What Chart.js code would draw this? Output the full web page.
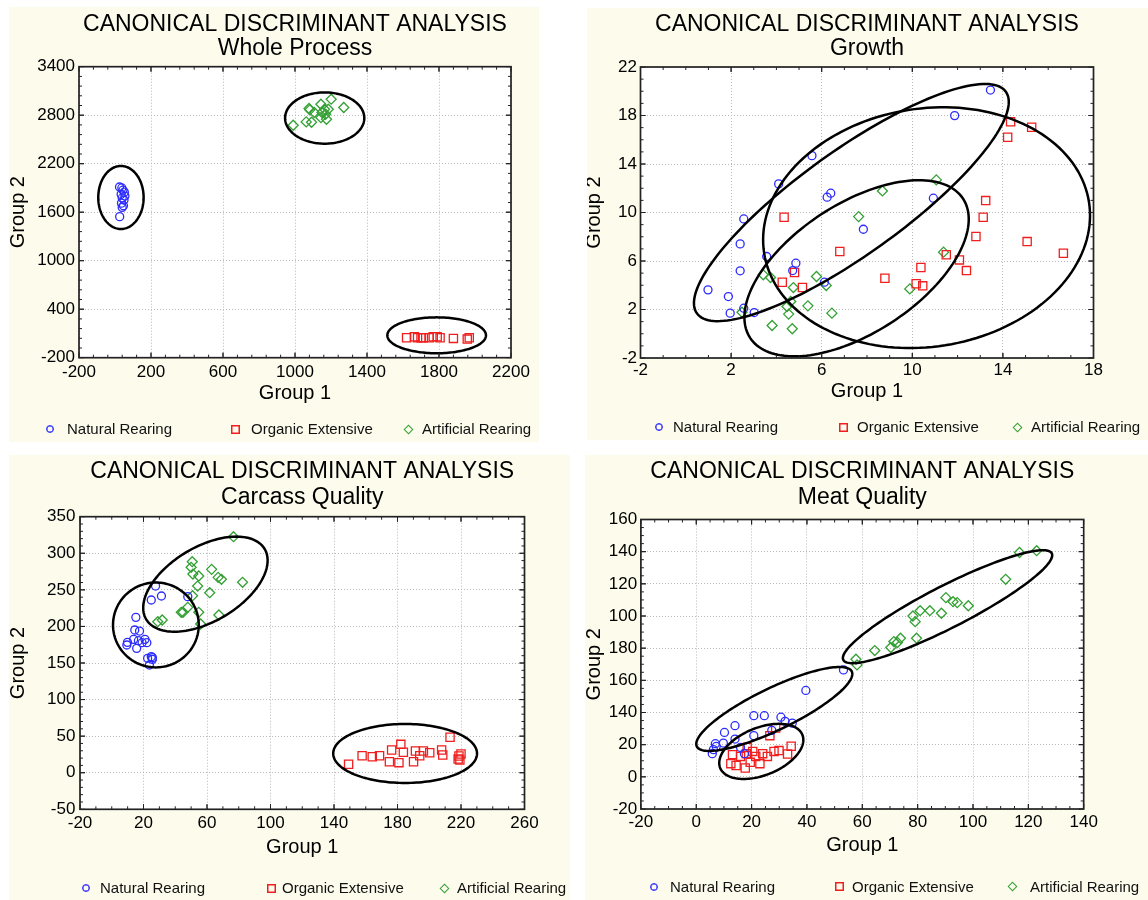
<!DOCTYPE html>
<html>
<head>
<meta charset="utf-8">
<script src="https://cdn.jsdelivr.net/npm/chart.js@4.4.1/dist/chart.umd.min.js"></script>
<style>
  html, body { margin: 0; padding: 0; background: #fff; }
  body { width: 1148px; height: 900px; position: relative; overflow: hidden; font-family: "Liberation Sans", Arial, sans-serif; }
  .panel { position: absolute; background: #fcfbec; }
  .panel canvas { position: absolute; left: 0; top: 0; }
  .lg { position: absolute; font-size: 15px; line-height: 18px; color: #111; white-space: nowrap; }
  .mk { position: absolute; box-sizing: border-box; }
  .mk.c { width: 8px; height: 8px; border: 1px solid #2b2bff; border-radius: 50%; box-shadow: inset 0 0 0 0.5px #2b2bff; }
  .mk.s { width: 9px; height: 9px; border: 1px solid #f01e1e; box-shadow: inset 0 0 0 0.5px #f01e1e; }
  .mk.d { width: 7px; height: 7px; border: 1px solid #33a033; transform: rotate(45deg); }
</style>
</head>
<body>
<script>
const FONT = '"Liberation Sans", Arial, Helvetica, sans-serif';

const seriesNames = ['Natural Rearing', 'Organic Extensive', 'Artificial Rearing'];
const seriesColors = ['#2b2bff', '#f01e1e', '#33a033'];
const seriesShapes = ['circle', 'rect', 'rectRot'];

// --- Whole Process ---
const wholeNatural = [[25,1912],[38,1900],[44,1872],[52,1848],[34,1822],[55,1800],[40,1776],[50,1750],[36,1712],[47,1680],[40,1660],[26,1545]];
const wholeOrganic = [[1620,47],[1663,60],[1681,47],[1700,47],[1713,47],[1746,47],[1768,60],[1790,60],[1806,47],[1880,39],[1957,30],[1968,47]];
const wholeArtificial = [[990,2676],[1062,2717],[1092,2713],[1078,2883],[1082,2866],[1107,2833],[1144,2936],[1150,2833],[1144,2770],[1164,2874],[1170,2812],[1185,2874],[1175,2750],[1201,2998],[1271,2895]];
// ellipse = centre x, centre y, then two conjugate half axes (data units)
const wholeEllipses = [[33,1782,126,0,0,390],[1165,2765,220,0,0,317],[1787,77,274,0,0,222]];
const wholeXTicks = [-200, 200, 600, 1000, 1400, 1800, 2200];
const wholeYTicks = [-200, 400, 1000, 1600, 2200, 2800, 3400];

// --- Growth ---
const growthNatural = [[0.98,3.62],[1.88,3.07],[1.96,1.70],[2.40,5.19],[2.40,7.41],[2.56,9.47],[2.56,2.11],[3.02,1.75],[3.57,6.37],[4.10,12.36],[4.72,5.21],[4.86,5.82],[5.57,14.69],[6.12,4.25],[6.24,11.26],[6.40,11.59],[7.84,8.62],[10.93,11.18],[11.87,17.99],[13.45,20.10]];
const growthOrganic = [[4.34,9.61],[4.26,4.25],[4.80,5.05],[5.15,3.81],[6.80,6.78],[8.79,4.58],[10.17,4.12],[10.38,5.46],[10.46,3.95],[11.50,6.51],[12.08,6.09],[12.39,5.21],[12.81,8.02],[13.13,9.61],[13.24,10.98],[14.21,16.20],[14.34,17.49],[15.07,7.60],[15.27,17.03],[16.67,6.64]];
const growthArtificial = [[2.48,1.78],[3.42,4.86],[3.74,4.64],[3.81,0.68],[4.47,2.25],[4.54,1.62],[4.63,2.66],[4.70,0.41],[4.75,3.81],[5.39,2.30],[5.77,4.72],[6.20,3.98],[6.45,1.70],[7.63,9.66],[8.68,11.78],[9.89,3.70],[11.06,12.69],[11.38,6.73]];
const growthEllipses = [[7.31,10.82,6.82,9.14,1.34,-3.48],[10.63,8.75,7.17,2.12,0.82,-9.70],[7.54,5.4,4.70,5.74,1.56,-4.45]];
const growthXTicks = [-2, 2, 6, 10, 14, 18];
const growthYTicks = [-2, 2, 6, 10, 14, 18, 22];

// --- Carcass Quality ---
const carcassNatural = [[9.5,174.6],[9.9,178.2],[13.8,182.3],[14.5,195.1],[15.2,212.4],[15.7,170.0],[16.8,180.5],[17.5,193.7],[19.1,177.8],[20.9,182.3],[22.1,177.8],[22.6,156.4],[23.7,147.3],[24.9,236.1],[24.9,158.7],[25.6,155.0],[25.6,157.3],[27.6,255.2],[31.3,241.6],[47.9,240.7]];
const carcassOrganic = [[149.2,11.5],[157.7,23.3],[164.1,21.9],[168.7,23.3],[174.9,15.1],[176.3,31.1],[180.9,13.8],[182.1,38.8],[183.7,27.9],[190.1,15.1],[191.3,29.7],[194.0,23.3],[196.3,29.7],[200.3,27.4],[207.8,31.1],[208.5,24.3],[213.1,48.4],[218.2,18.8],[218.7,22.9],[220.0,25.6],[219.3,17.4]];
const carcassArtificial = [[29.0,206.5],[31.8,208.8],[43.8,219.3],[44.9,219.3],[47.9,226.1],[50.9,242.0],[50.0,280.8],[50.7,288.5],[51.1,271.6],[54.1,255.2],[54.8,268.9],[54.8,219.3],[56.0,203.3],[61.7,246.1],[62.9,278.0],[67.0,267.1],[69.1,264.4],[67.5,215.6],[76.7,322.7],[82.4,260.3]];
const carcassEllipses = [[27.8,202,27,0,0,58],[59.0,257.8,37.3,48.1,12.0,-43.7],[184.8,26.3,45.3,0,0,40.3]];
const carcassXTicks = [-20, 20, 60, 100, 140, 180, 220, 260];
const carcassYTicks = [-50, 0, 50, 100, 150, 200, 250, 300, 350];

// --- Meat Quality ---
const meatNatural = [[5.8,14.4],[6.2,16.9],[6.9,20.6],[7.2,18.9],[9.8,21.0],[10.2,27.6],[14.0,23.5],[14.0,31.8],[16.0,18.3],[17.4,14.4],[20.8,25.6],[20.8,38.0],[24.6,38.0],[27.3,28.9],[30.6,37.1],[32.1,34.5],[34.7,33.4],[39.6,53.7],[53.2,66.5]];
const meatOrganic = [[12.5,8.2],[13.1,13.8],[14.4,7.0],[16.0,12.7],[17.7,5.5],[18.1,14.4],[18.4,18.3],[19.5,9.0],[20.4,15.8],[21.5,12.7],[23.0,8.2],[24.0,14.4],[25.7,12.7],[26.6,25.6],[28.1,15.8],[28.7,30.3],[29.9,16.3],[33.0,14.2],[34.3,19.0]];
const meatArtificial = [[57.7,73.1],[58.1,69.6],[64.5,78.5],[70.3,80.4],[71.4,84.1],[72.7,83.5],[73.8,86.2],[78.3,100.0],[79.1,96.5],[79.6,86.2],[80.9,103.3],[84.4,103.3],[88.6,101.7],[90.2,111.4],[92.8,108.9],[94.3,108.3],[98.3,106.4],[111.8,122.8],[116.8,139.5],[123.0,140.6]];
const meatEllipses = [[28.2,42.2,28.0,23.3,3.29,-11.75],[23.5,15.8,14.85,10.3,3.2,-13.7],[90.8,105.8,37.66,33.15,3.47,-11.63]];
const meatXTicks = [-20, 0, 20, 40, 60, 80, 100, 120, 140];
const meatYTicks = [-20, 0, 20, 40, 60, 80, 100, 120, 140, 160];
// labels printed on the original y axis (as they appear)
const meatYLabels = ['-20', '0', '20', '140', '160', '180', '100', '120', '140', '160'];

// panel placement (page px)
const panels = [
  { sub: 'Whole Process', series: [wholeNatural, wholeOrganic, wholeArtificial], ellipses: wholeEllipses,
    xTicks: wholeXTicks, yTicks: wholeYTicks, minor: [5, 5],
    box: [9, 7, 530, 435], plot: [79, 66.7, 511, 357.7], t1: 24.2, lh: 24.2,
    xLab: 372.4, xTitle: 393.1, yTitle: 18.4, yPad: 4,
    legendY: 429, legendX: [[50.4, 67], [235, 251], [408, 422]] },
  { sub: 'Growth', series: [growthNatural, growthOrganic, growthArtificial], ellipses: growthEllipses,
    xTicks: growthXTicks, yTicks: growthYTicks, minor: [4, 4],
    box: [587, 8, 561, 432], plot: [640.5, 67, 1093.5, 358], t1: 24.2, lh: 24.1,
    xLab: 370.7, xTitle: 391.4, yTitle: 594.3, yPad: 3.5,
    legendY: 427, legendX: [[658.6, 672.5], [843.5, 857], [1017, 1031]] },
  { sub: 'Carcass Quality', series: [carcassNatural, carcassOrganic, carcassArtificial], ellipses: carcassEllipses,
    xTicks: carcassXTicks, yTicks: carcassYTicks, minor: [4, 5],
    box: [9, 455, 561, 445], plot: [80, 516.7, 524.5, 809.3], t1: 471.3, lh: 25.9,
    xLab: 823.3, xTitle: 847.1, yTitle: 18.4, yPad: 4.6,
    legendY: 888, legendX: [[85.7, 100], [271, 282], [444, 457]] },
  { sub: 'Meat Quality', series: [meatNatural, meatOrganic, meatArtificial], ellipses: meatEllipses,
    xTicks: meatXTicks, yTicks: meatYTicks, yLabels: meatYLabels, minor: [4, 4],
    box: [585, 455, 563, 445], plot: [640.9, 519.5, 1083.7, 809], t1: 471.7, lh: 25.5,
    xLab: 822.3, xTitle: 845.8, yTitle: 594.4, yPad: 3.7,
    legendY: 886.7, legendX: [[654, 669.6], [839.4, 852], [1012, 1030]] }
];

const chartFrame = (p) => ({
  id: 'chartFrame',
  beforeDraw(chart) {
    const { ctx, chartArea: a } = chart;
    ctx.save();
    ctx.fillStyle = '#fff';
    ctx.fillRect(a.left, a.top, a.width, a.height);
    ctx.restore();
  },
  afterDatasetsDraw(chart) {
    const { ctx, chartArea: a, scales: { x, y } } = chart;
    ctx.save();
    ctx.beginPath();
    ctx.rect(a.left, a.top, a.width, a.height);
    ctx.clip();
    ctx.strokeStyle = '#000';
    ctx.lineWidth = 2.5;
    p.ellipses.forEach(([cx, cy, ux, uy, vx, vy]) => {
      ctx.beginPath();
      for (let i = 0; i <= 160; i++) {
        const t = i / 160 * Math.PI * 2;
        const px = x.getPixelForValue(cx + ux * Math.cos(t) + vx * Math.sin(t));
        const py = y.getPixelForValue(cy + uy * Math.cos(t) + vy * Math.sin(t));
        i ? ctx.lineTo(px, py) : ctx.moveTo(px, py);
      }
      ctx.closePath();
      ctx.stroke();
    });
    ctx.restore();
  },
  afterDraw(chart) {
    const { ctx, chartArea: a, scales: { x, y } } = chart;
    const sub = (ticks, n, fn) => {
      for (let i = 0; i < ticks.length - 1; i++)
        for (let k = 0; k <= n; k++)
          fn(ticks[i] + (ticks[i + 1] - ticks[i]) * k / n, k % n === 0 ? 5 : 3);
    };
    ctx.save();
    ctx.strokeStyle = '#222';
    ctx.lineWidth = 1;
    ctx.beginPath();
    sub(p.xTicks, p.minor[0], (v, len) => {
      const px = x.getPixelForValue(v);
      ctx.moveTo(px, a.bottom); ctx.lineTo(px, a.bottom - len);
      ctx.moveTo(px, a.top); ctx.lineTo(px, a.top + len);
    });
    sub(p.yTicks, p.minor[1], (v, len) => {
      const py = y.getPixelForValue(v);
      ctx.moveTo(a.left, py); ctx.lineTo(a.left + len, py);
      ctx.moveTo(a.right, py); ctx.lineTo(a.right - len, py);
    });
    ctx.stroke();
    ctx.lineWidth = 1.7;
    ctx.strokeRect(a.left, a.top, a.width, a.height);
    ctx.restore();
  }
});

panels.forEach((p, n) => {
  const [bx, by, bw, bh] = p.box;
  const L = p.plot[0] - bx, T = p.plot[1] - by, R = p.plot[2] - bx, B = p.plot[3] - by;
  const shapeCls = ['c', 's', 'd'];
  const mkSize = [8, 9, 7];

  const wrap = document.createElement('div');
  wrap.className = 'panel';
  wrap.style.cssText = `left:${bx}px;top:${by}px;width:${bw}px;height:${bh}px`;
  wrap.innerHTML = `<canvas id="c${n}" width="${bw}" height="${bh}"></canvas>` +
    seriesNames.map((name, i) => {
      const [mx, tx] = p.legendX[i];
      const s = mkSize[i];
      return `<div class="mk ${shapeCls[i]}" style="left:${Math.round(mx - bx - s / 2)}px;top:${Math.round(p.legendY - by - s / 2)}px"></div>
        <div class="lg" style="left:${Math.round(tx - bx)}px;top:${Math.round(p.legendY - by - 9)}px">${name}</div>`;
    }).join('');
  document.body.appendChild(wrap);

  const titlePadTop = p.t1 - by - p.lh / 2;
  const xTitleRel = p.xTitle - by;

  new Chart(document.getElementById('c' + n), {
    type: 'scatter',
    data: {
      datasets: p.series.map((pts, i) => ({
        label: seriesNames[i],
        data: pts.map(([x, y]) => ({ x, y })),
        pointStyle: seriesShapes[i],
        pointRadius: [4, 5.8, 5][i],
        pointBorderWidth: 1.3,
        pointBorderColor: seriesColors[i],
        pointBackgroundColor: 'rgba(0,0,0,0)'
      }))
    },
    options: {
      responsive: false,
      animation: false,
      events: [],
      layout: { padding: { left: 0, top: 0, right: bw - R, bottom: bh - (xTitleRel + 8) } },
      plugins: {
        legend: { display: false },
        tooltip: { enabled: false },
        title: {
          display: true,
          fullSize: false,
          text: ['CANONICAL DISCRIMINANT ANALYSIS', p.sub],
          color: '#000',
          font: { size: 23, family: FONT, weight: 'normal', lineHeight: p.lh / 23 },
          padding: { top: titlePadTop, bottom: T - titlePadTop - 2 * p.lh }
        }
      },
      scales: {
        x: {
          type: 'linear',
          min: p.xTicks[0],
          max: p.xTicks[p.xTicks.length - 1],
          afterBuildTicks: s => { s.ticks = p.xTicks.map(v => ({ value: v })); },
          afterFit: s => { s.height = xTitleRel + 8 - B; },
          grid: { color: '#b8b8b8', lineWidth: 1, drawTicks: false },
          border: { display: false, dash: [1, 2] },
          ticks: { padding: p.xLab - p.plot[3] - 10.2, color: '#000', maxRotation: 0, autoSkip: false,
                   font: { size: 17, family: FONT }, callback: v => String(v) },
          title: { display: true, text: 'Group 1', color: '#000', padding: 0,
                   font: { size: 20, family: FONT, lineHeight: 0.8 } }
        },
        y: {
          type: 'linear',
          min: p.yTicks[0],
          max: p.yTicks[p.yTicks.length - 1],
          afterBuildTicks: s => { s.ticks = p.yTicks.map(v => ({ value: v })); },
          afterFit: s => { s.width = L; },
          grid: { color: '#b8b8b8', lineWidth: 1, drawTicks: false },
          border: { display: false, dash: [1, 2] },
          ticks: { padding: p.yPad, color: '#000', autoSkip: false,
                   font: { size: 17, family: FONT },
                   callback: (v, i) => p.yLabels ? p.yLabels[i] : String(v) },
          title: { display: true, text: 'Group 2', color: '#000',
                   padding: { top: p.yTitle - bx - 8, bottom: 0 },
                   font: { size: 20, family: FONT, lineHeight: 0.8 } }
        }
      }
    },
    plugins: [chartFrame(p)]
  });
});
</script>
</body>
</html>
